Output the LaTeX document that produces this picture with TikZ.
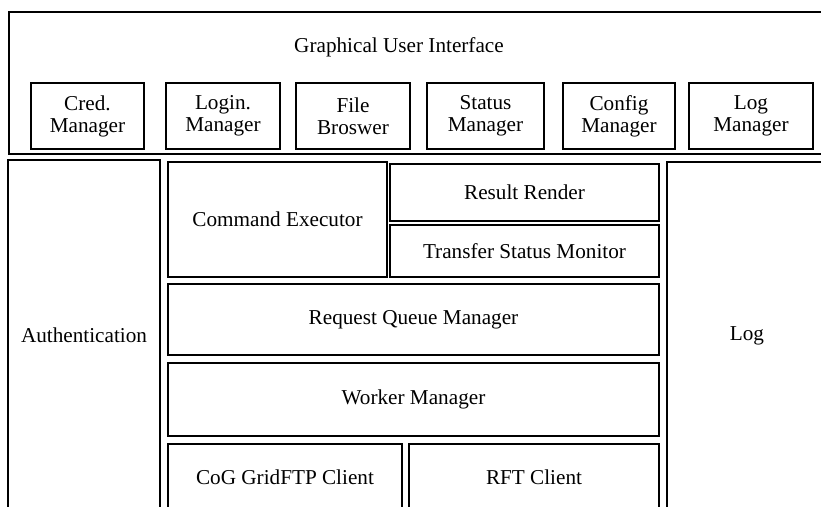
\documentclass[tikz,border=0pt]{standalone}
\usepackage{fontspec}
\setmainfont{Liberation Serif}
\usepackage{tikz}

\begin{document}
\begin{tikzpicture}[
    x=0.5pt, y=-0.5pt,
    box/.style={draw, line width=1pt, rectangle, align=center, inner sep=0pt,
      font=\fontsize{10.6}{11}\selectfont},
    mgr/.style={box, minimum height=33pt}
  ]
    \useasboundingbox (0,0) rectangle (821,507);
    \fill[white] (0,0) rectangle (821,507);
    \clip (0,0) rectangle (821,507);

    % user interface layer
    \node[box, minimum width=415.5pt, minimum height=71pt] (gui) at (424.5,83) {};
    \node[font=\fontsize{10.6}{11}\selectfont] (guititle) at (399,47) {Graphical User Interface};
    \node[mgr, minimum width=56.5pt] (cred) at (87.5,116) {Cred.\\Manager};
    \node[mgr, minimum width=57pt] (login) at (223,116) {Login.\\Manager};
    \node[mgr, minimum width=57pt] (files) at (353,116) {File\\Broswer};
    \node[mgr, minimum width=58.5pt] (status) at (485.5,116) {Status\\Manager};
    \node[mgr, minimum width=56pt] (config) at (619,116) {Config\\Manager};
    \node[mgr, minimum width=62pt] (logmgr) at (751,116) {Log\\Manager};

    % side columns
    \node[box, minimum width=76pt, minimum height=175pt] (auth) at (84,335) {Authentication};
    \node[box, minimum width=80pt, minimum height=174pt] (log) at (747,336) {Log};

    % core
    \node[box, minimum width=109.5pt, minimum height=57.5pt] (cmd) at (277.5,219.5) {Command Executor};
    \node[box, minimum width=134.5pt, minimum height=28.5pt] (render) at (524.5,192.5) {Result Render};
    \node[box, minimum width=134.5pt, minimum height=26pt] (monitor) at (524.5,251) {Transfer Status Monitor};
    \node[box, minimum width=245.5pt, minimum height=35.5pt] (queue) at (413.5,319.5) {Request Queue Manager};
    \node[box, minimum width=245.5pt, minimum height=36.5pt] (worker) at (413.5,399.5) {Worker Manager};
    \node[box, minimum width=117pt, minimum height=33pt] (gridftp) at (285,477) {CoG GridFTP Client};
    \node[box, minimum width=125pt, minimum height=33pt] (rft) at (534,477) {RFT Client};
  \end{tikzpicture}
\end{document}
